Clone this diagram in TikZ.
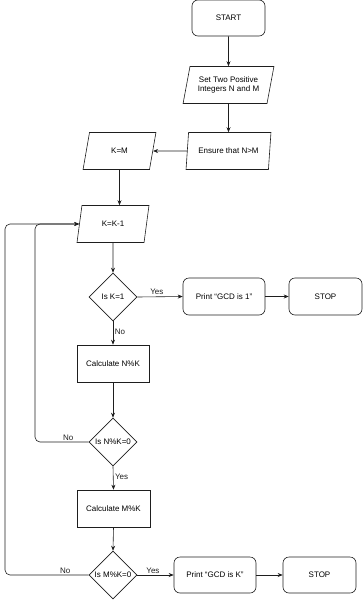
\documentclass[tikz,border=0pt]{standalone}
\usepackage{fontspec}
\setmainfont{Liberation Sans}
\usepackage{tikz}
\usetikzlibrary{arrows.meta,positioning,shapes.geometric}
\definecolor{LineGray}{RGB}{30,30,30}

\begin{document}
\begin{tikzpicture}[
  x=1pt, y=-1pt,
  terminal/.style={
    draw=LineGray,
    rounded corners=6pt,
    align=center,
    minimum width=73pt,
    minimum height=36pt,
    line width=0.6pt
  },
  printbox/.style={terminal, minimum width=82pt, minimum height=37pt},
  process/.style={
    draw=LineGray,
    align=center,
    minimum width=72pt,
    minimum height=37pt,
    line width=0.6pt
  },
  io/.style={
    draw=LineGray,
    trapezium,
    trapezium left angle=72,
    trapezium right angle=108,
    trapezium stretches,
    align=center,
    minimum height=37pt,
    inner sep=0pt,
    line width=0.6pt
  },
  decision/.style={
    draw=LineGray,
    diamond,
    minimum width=48pt,
    minimum height=48pt,
    inner sep=0pt,
    line width=0.6pt
  },
  flow/.style={-{Stealth[length=5pt,width=4pt]}, line width=0.6pt, LineGray},
  tag/.style={inner sep=1.5pt},
  font=\fontsize{8}{9.5}\selectfont
]
\useasboundingbox (0,0) rectangle (362,600);

\node[terminal] (start) at (228.5,18) {START};
\node[io, minimum width=91pt] (input) at (228.5,85)
{Set Two Positive\\Integers N and M};
\node[io, minimum width=85pt] (ensure) at (228.5,151) {Ensure that N>M};
\node[io, minimum width=73pt] (kem) at (119.5,151) {K=M};
\node[io, minimum width=72pt] (kk1) at (113,224) {K=K-1};
\node[decision] (isk1) at (113,297) {Is K=1};
\node[printbox] (print1) at (224,296.5) {Print ``GCD is 1''};
\node[terminal, minimum height=37pt] (stop1) at (325.5,296.5) {STOP};
\node[process] (calcn) at (113,363.5) {Calculate N\%K};
\node[decision] (isn) at (113,442) {Is N\%K=0};
\node[process, minimum width=73pt] (calcm) at (113.5,508.5) {Calculate M\%K};
\node[decision] (ism) at (113,575) {Is M\%K=0};
\node[printbox, minimum height=36pt] (printk) at (215,575) {Print ``GCD is K''};
\node[terminal] (stop2) at (319.5,575) {STOP};

\coordinate (loopa) at (35,0);
\coordinate (loopb) at (5,0);

\draw[flow] (start.south) -- (input.north);
\draw[flow] (input.south) -- (ensure.north);
\draw[flow] (ensure.west) -- (kem.east);
\draw[flow] (kem.south) -- (kem.south |- kk1.north);
\draw[flow] (kk1.south) -- (isk1.north);

\draw[flow] (isk1.east) -- node[tag,above,pos=0.43]{Yes} (print1.west);
\draw[flow] (print1.east) -- (stop1.west);
\draw[flow] (isk1.south) -- node[tag,right,pos=0.45]{No} (calcn.north);
\draw[flow] (calcn.south) -- (isn.north);

\draw[flow, rounded corners=5pt] (isn.west) -- node[tag,above,pos=0.38]{No}
  (isn.west -| loopa) |- (kk1.west);
\draw[flow] (isn.south) -- node[tag,right,pos=0.45]{Yes} (calcm.north);
\draw[flow] (calcm.south) -- (ism.north);

\draw[flow, rounded corners=5pt] (ism.west) -- node[tag,above,pos=0.28]{No}
  (ism.west -| loopb) |- (kk1.west);
\draw[flow] (ism.east) -- node[tag,above,pos=0.43]{Yes} (printk.west);
\draw[flow] (printk.east) -- (stop2.west);
\end{tikzpicture}
\end{document}
